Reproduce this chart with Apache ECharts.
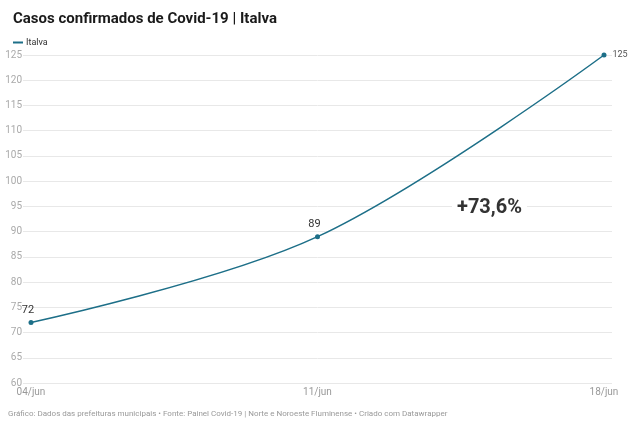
<!DOCTYPE html>
<html>
<head>
<meta charset="utf-8">
<script src="https://cdn.jsdelivr.net/npm/echarts@6/dist/echarts.min.js"></script>
<style>html,body{margin:0;padding:0;background:#fff}#c{width:640px;height:431px}</style>
</head>
<body>
<div id="c"></div>
<script>
var categories = ['04/jun', '11/jun', '18/jun'];
var values = [72, 89, 125];
var seriesName = 'Italva';
var yTicks = [60, 65, 70, 75, 80, 85, 90, 95, 100, 105, 110, 115, 120, 125];
var annotation = '+73,6%';

var chart = echarts.init(document.getElementById('c'));
var color = '#1d6f88';
var F = 'Roboto, sans-serif';
var yMin = yTicks[0], yMax = yTicks[yTicks.length - 1];

var dataPts = values.map(function (v, i) {
  var last = i === values.length - 1;
  return {
    value: v,
    label: last ? {show: true, position: 'right', distance: 6, fontSize: 9, color: '#555', fontFamily: F}
                : {show: true, position: 'top', distance: 4, offset: [-3, 0], fontSize: 11, color: '#333', fontFamily: F}
  };
});

chart.setOption({
  animation: false,
  title: {
    text: 'Casos confirmados de Covid-19 | Italva',
    left: 8, top: 7,
    textStyle: {fontSize: 15, fontWeight: 'bold', color: '#1a1a1a', fontFamily: F}
  },
  legend: {
    data: [seriesName], left: 8, top: 33, icon: 'rect', itemWidth: 10, itemHeight: 2, itemGap: 4,
    textStyle: {fontSize: 9, color: '#333', fontFamily: F, padding: [0, 0, 0, -2]}
  },
  grid: [
    {left: 23, right: 28, top: 55, bottom: 48},
    {left: 31, right: 36, top: 55, bottom: 48}
  ],
  xAxis: [
    {gridIndex: 0, type: 'category', data: categories, show: false},
    {gridIndex: 1, type: 'category', data: categories, boundaryGap: false,
      axisLine: {show: false}, axisTick: {show: false},
      axisLabel: {fontSize: 10, color: '#999', fontFamily: F, margin: 4, interval: 0}}
  ],
  yAxis: [
    {gridIndex: 0, type: 'value', min: yMin, max: yMax, interval: 5,
      axisLine: {show: false}, axisTick: {show: false},
      axisLabel: {fontSize: 10, color: '#aaa', fontFamily: F, margin: 1, align: 'right'},
      splitLine: {lineStyle: {color: '#e8e8e8', width: 1}}},
    {gridIndex: 1, type: 'value', min: yMin, max: yMax, interval: 5, show: false, splitLine: {show: false}}
  ],
  series: [{
    name: seriesName, type: 'line', xAxisIndex: 1, yAxisIndex: 1,
    data: dataPts, smooth: 0.35,
    symbol: 'circle', symbolSize: 5, showAllSymbol: true,
    lineStyle: {color: color, width: 1.5},
    itemStyle: {color: color}
  }],
  graphic: [
    {type: 'text', left: 452, top: 197, z: 10, style: {text: annotation, font: 'bold 20px Roboto, sans-serif', fill: '#333', backgroundColor: '#fff', padding: [1, 5, 1, 5]}},
    {type: 'text', left: 8, top: 410, style: {text: 'Gráfico: Dados das prefeituras municipais • Fonte: Painel Covid-19 | Norte e Noroeste Fluminense • Criado com Datawrapper', font: '8px Roboto, sans-serif', fill: '#999'}}
  ]
});
</script>
</body>
</html>
